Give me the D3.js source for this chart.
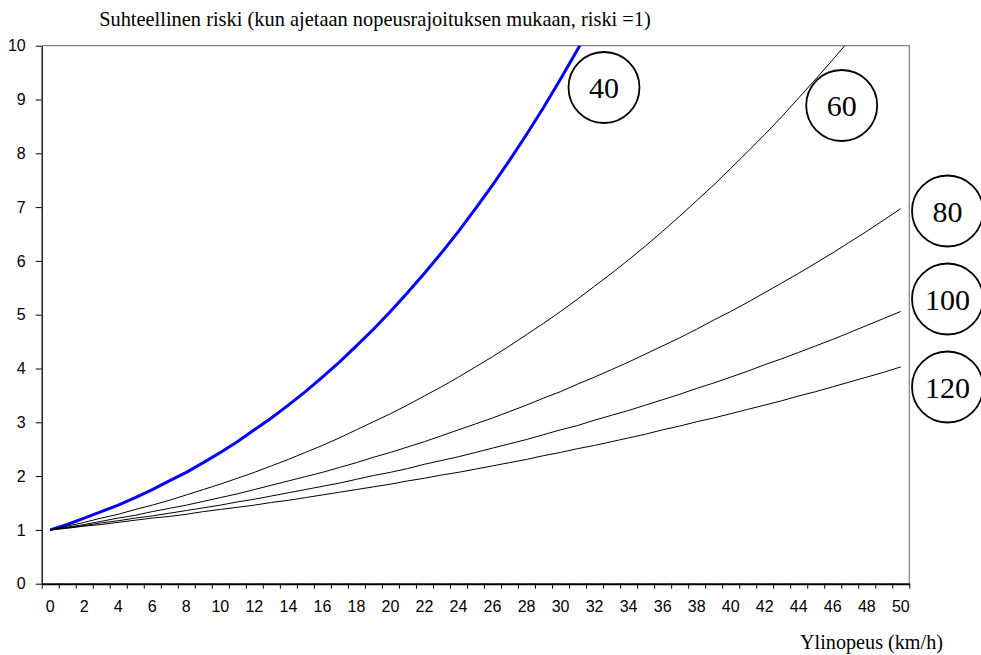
<!DOCTYPE html>
<html>
<head>
<meta charset="utf-8">
<script src="https://cdn.jsdelivr.net/npm/d3@7"></script>
<style>
  html, body { margin: 0; padding: 0; background: #fff; }
  svg { display: block; }
</style>
</head>
<body>
<svg id="chart" width="981" height="655"></svg>
<script>
// ---- Data ----
const overspeed = d3.range(0, 51); // categories 0..50 km/h
const yTicks = [0, 1, 2, 3, 4, 5, 6, 7, 8, 9, 10];
const xTickLabels = [0, 2, 4, 6, 8, 10, 12, 14, 16, 18, 20, 22, 24, 26, 28, 30, 32, 34, 36, 38, 40, 42, 44, 46, 48, 50];

const risk40 = [1, 1.10, 1.22, 1.34, 1.46, 1.60, 1.75, 1.91, 2.07, 2.25, 2.44, 2.64, 2.86, 3.08, 3.32, 3.57,
  3.84, 4.12, 4.42, 4.73, 5.06, 5.41, 5.77, 6.15, 6.55, 6.97, 7.41, 7.87, 8.35, 8.85, 9.38, 9.93, 10.50];
const risk60 = [1, 1.07, 1.14, 1.22, 1.29, 1.38, 1.46, 1.55, 1.65, 1.75, 1.85, 1.96, 2.07, 2.19, 2.31, 2.44,
  2.57, 2.71, 2.86, 3.01, 3.16, 3.32, 3.49, 3.66, 3.84, 4.03, 4.22, 4.42, 4.63, 4.84, 5.06, 5.29, 5.53, 5.77,
  6.02, 6.28, 6.55, 6.83, 7.12, 7.41, 7.72, 8.03, 8.35, 8.68, 9.03, 9.38, 9.74, 10.11];
const risk80 = [1, 1.05, 1.10, 1.16, 1.22, 1.27, 1.34, 1.40, 1.46, 1.53, 1.60, 1.67, 1.75, 1.83, 1.91, 1.99,
  2.07, 2.16, 2.25, 2.35, 2.44, 2.54, 2.64, 2.75, 2.86, 2.97, 3.08, 3.20, 3.32, 3.45, 3.57, 3.71, 3.84, 3.98,
  4.12, 4.27, 4.42, 4.57, 4.73, 4.90, 5.06, 5.23, 5.41, 5.59, 5.77, 5.96, 6.15, 6.35, 6.55, 6.76, 6.97];
const risk100 = [1, 1.04, 1.08, 1.13, 1.17, 1.22, 1.26, 1.31, 1.36, 1.41, 1.46, 1.52, 1.57, 1.63, 1.69, 1.75,
  1.81, 1.87, 1.94, 2.01, 2.07, 2.14, 2.22, 2.29, 2.36, 2.44, 2.52, 2.60, 2.68, 2.77, 2.86, 2.94, 3.04, 3.13,
  3.22, 3.32, 3.42, 3.52, 3.63, 3.73, 3.84, 3.95, 4.07, 4.18, 4.30, 4.42, 4.54, 4.67, 4.80, 4.93, 5.06];
const risk120 = [1, 1.03, 1.07, 1.10, 1.14, 1.18, 1.22, 1.25, 1.29, 1.34, 1.38, 1.42, 1.46, 1.51, 1.55, 1.60,
  1.65, 1.70, 1.75, 1.80, 1.85, 1.91, 1.96, 2.02, 2.07, 2.13, 2.19, 2.25, 2.31, 2.38, 2.44, 2.51, 2.57, 2.64,
  2.71, 2.78, 2.86, 2.93, 3.01, 3.08, 3.16, 3.24, 3.32, 3.40, 3.49, 3.57, 3.66, 3.75, 3.84, 3.93, 4.03];

const seriesNames = ["40", "60", "80", "100", "120"];
const seriesValues = [risk40, risk60, risk80, risk100, risk120];
const seriesColors = ["#0000FF", "#000000", "#000000", "#000000", "#000000"];
const seriesWidths = [3, 1, 1, 1, 1];

const titleText = "Suhteellinen riski (kun ajetaan nopeusrajoituksen mukaan, riski =1)";
const xTitleText = "Ylinopeus (km/h)";

// ---- Layout ----
const svg = d3.select("#chart");
const L = 41.7, R = 909.3, T = 45.7, B = 583.7;

const x = d3.scaleBand().domain(overspeed).range([L, R]).padding(0);
const xEdges = d3.scaleLinear().domain([0, overspeed.length]).range([L, R]);
const y = d3.scaleLinear().domain([0, 10]).range([B, T]);
const cx = d => x(d) + x.bandwidth() / 2;

// clip
svg.append("defs").append("clipPath").attr("id", "plotclip")
  .append("rect").attr("x", L).attr("y", T).attr("width", R - L).attr("height", B - T);

// plot area border (top, right)
svg.append("path")
  .attr("d", `M${L},${T}H${R}V${B}`)
  .attr("fill", "none").attr("stroke", "#808080").attr("stroke-width", 1.2);

// lines
const line = d3.line().x((d, i) => cx(overspeed[i])).y(d => y(d));
const lg = svg.append("g").attr("clip-path", "url(#plotclip)");
seriesValues.forEach((vals, k) => {
  lg.append("path").datum(vals)
    .attr("d", line)
    .attr("fill", "none")
    .attr("stroke", seriesColors[k])
    .attr("stroke-width", seriesWidths[k])
    .attr("stroke-linejoin", "round");
});

// Y axis
const yAxis = svg.append("g").attr("transform", `translate(${L},0)`)
  .call(d3.axisLeft(y).tickValues(yTicks).tickSizeInner(6).tickSizeOuter(0).tickPadding(10).tickFormat(d3.format("d")));
yAxis.select(".domain").attr("stroke", "#000").attr("stroke-width", 1.3);
yAxis.selectAll(".tick line").attr("stroke", "#000");
yAxis.selectAll("text").attr("font-family", "Liberation Sans, Arial, sans-serif").attr("font-size", 16).attr("fill", "#000");

// X axis tick marks at category boundaries
const xTickAxis = svg.append("g").attr("transform", `translate(0,${B})`)
  .call(d3.axisBottom(xEdges).tickValues(d3.range(0, overspeed.length + 1)).tickSizeInner(5).tickSizeOuter(0).tickFormat(""));
xTickAxis.select(".domain").attr("stroke", "#000").attr("stroke-width", 2);
xTickAxis.selectAll(".tick line").attr("stroke", "#000");

// X labels centred on categories
const xLab = svg.append("g").attr("transform", `translate(0,${B})`)
  .call(d3.axisBottom(x).tickValues(xTickLabels).tickSize(0).tickPadding(16.5));
xLab.select(".domain").remove();
xLab.selectAll("text").attr("font-family", "Liberation Sans, Arial, sans-serif").attr("font-size", 16).attr("fill", "#000");

// Titles
svg.append("text").attr("x", 375).attr("y", 26).attr("text-anchor", "middle")
  .attr("font-family", "Liberation Serif, Times New Roman, serif").attr("font-size", 20.4)
  .text(titleText);
svg.append("text").attr("x", 943).attr("y", 649).attr("text-anchor", "end")
  .attr("font-family", "Liberation Serif, Times New Roman, serif").attr("font-size", 20.2)
  .text(xTitleText);

// Circle labels
const badgePos = [[604, 87.5], [841.7, 105.5], [947.5, 211], [947.5, 299], [947.5, 387]];
const bg = svg.append("g");
seriesNames.forEach((name, k) => {
  const g = bg.append("g").attr("transform", `translate(${badgePos[k][0]},${badgePos[k][1]})`);
  g.append("circle").attr("r", 35.5).attr("fill", "#fff").attr("stroke", "#000").attr("stroke-width", 1.8);
  g.append("text").attr("text-anchor", "middle").attr("dy", "0.35em")
    .attr("font-family", "Liberation Serif, Times New Roman, serif").attr("font-size", 30)
    .text(name);
});
</script>
</body>
</html>
